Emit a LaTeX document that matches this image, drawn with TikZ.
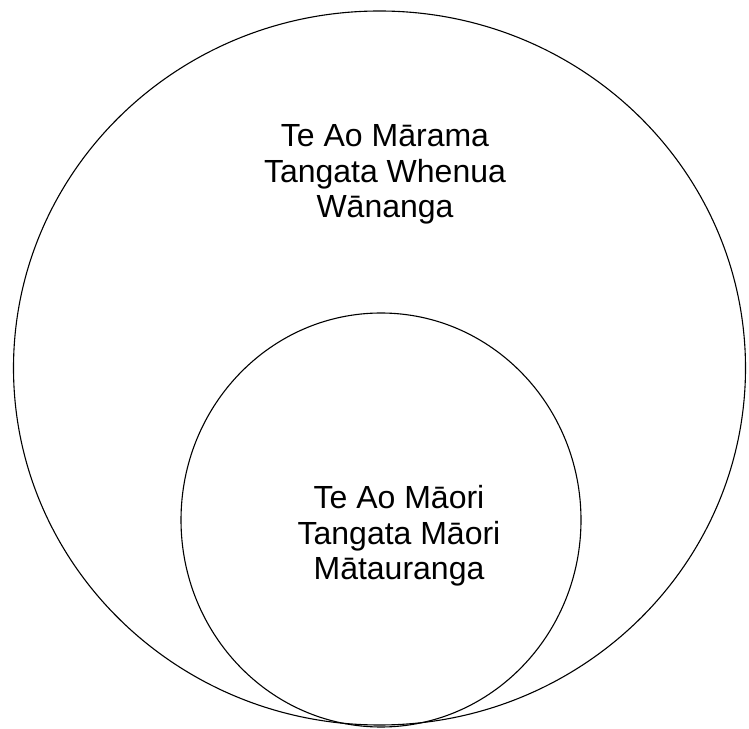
\documentclass[tikz,border=0pt]{standalone}
\usepackage{fontspec}
\setmainfont{Liberation Sans}
\begin{document}
\begin{tikzpicture}[x=1pt,y=1pt,
  ring/.style={draw=black,line width=1.1pt},
  lbl/.style={align=center,font=\fontsize{32}{35.5}\selectfont,inner sep=0pt}]
\useasboundingbox (0,0) rectangle (749,728);
\draw[ring] (379.5,360) ellipse [x radius=366, y radius=357];
\draw[ring] (381,208) ellipse [x radius=200, y radius=207];
\node[lbl,anchor=base] (outer) at (385,510) {Te Ao Mārama\\Tangata Whenua\\Wānanga};
\node[lbl,anchor=base] (inner) at (399,148) {Te Ao Māori\\Tangata Māori\\Mātauranga};
\end{tikzpicture}
\end{document}
